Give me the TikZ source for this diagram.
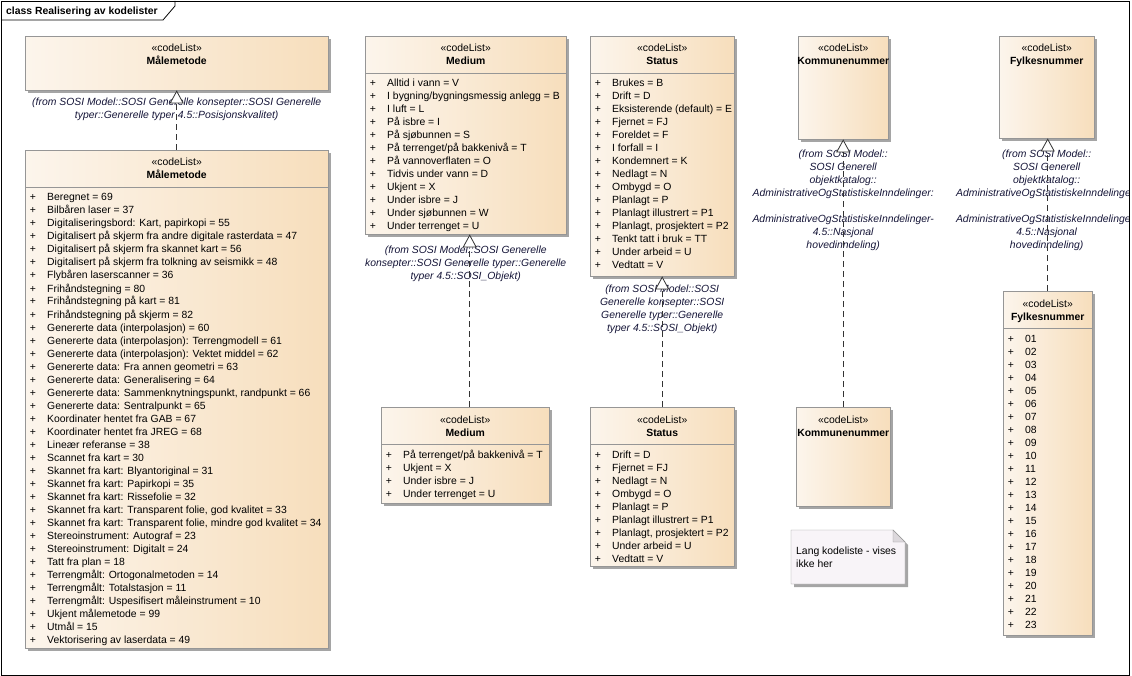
\documentclass[tikz,border=0pt]{standalone}
\usepackage{fontspec}
\setmainfont{Liberation Sans}
\usetikzlibrary{arrows.meta,shadows,positioning}

\definecolor{boxlys}{RGB}{252,245,236}
\definecolor{boxmork}{RGB}{247,222,188}
\definecolor{boxkant}{RGB}{150,150,150}
\definecolor{fratekst}{RGB}{20,20,55}
\definecolor{notatfyll}{RGB}{248,244,248}
\definecolor{notatbrett}{RGB}{220,216,220}
\definecolor{skygge}{RGB}{165,165,165}

\tikzset{
  klasse/.style={draw=boxkant, left color=boxlys, right color=boxmork,
    anchor=north west, inner sep=0pt,
    drop shadow={shadow xshift=3pt, shadow yshift=-3pt, fill=skygge, opacity=1}},
  stereo/.style={font=\fontsize{10.4}{13}\selectfont, inner sep=0pt, anchor=base},
  navn/.style={font=\fontsize{10.4}{13}\selectfont\bfseries, inner sep=0pt, anchor=base},
  verdi/.style={font=\fontsize{10.4}{13}\selectfont, inner sep=0pt, anchor=base west},
  fra/.style={font=\fontsize{10.4}{13}\selectfont\itshape, text=fratekst,
    align=center, inner sep=0pt},
  realiserer/.style={draw=black!80, line width=0.8pt, dash pattern=on 6pt off 4pt,
    -{Triangle[open, length=13pt, width=14pt, fill=white, line width=0.8pt]}}
}

% Kodeliste uten verdier: navn, x, y, bredde, hoyde, tittel
\newcommand{\kodeboks}[6]{
  \node[klasse, minimum width=#4pt, minimum height=#5pt] (#1) at (#2,#3) {};
  \node[stereo] (#1-st) at ([yshift=-16pt]#1.north) {«codeList»};
  \node[navn] (#1-navn) at ([yshift=-29pt]#1.north) {#6};
}
% Kodeliste med verdier
\newcommand{\kodeliste}[7]{
  \kodeboks{#1}{#2}{#3}{#4}{#5}{#6}
  \draw[boxkant] ([yshift=-37pt]#1.north west) -- ([yshift=-37pt]#1.north east);
  \foreach \tekst [count=\n] in {#7} {
    \node[stereo] (#1-p\n) at ([xshift=8pt, yshift={-51pt-13pt*(\n-1)}]#1.north west) {+};
    \node[verdi] (#1-v\n) at ([xshift=22pt, yshift={-51pt-13pt*(\n-1)}]#1.north west) {\tekst};
  }
}

\begin{document}
\begin{tikzpicture}[x=1pt, y=-1pt]
  \useasboundingbox (0,0) rectangle (1132,676);

  % Ramme med tittel
  \draw[line width=0.8pt] (1,1) rectangle (1129,675);
  \draw[line width=0.8pt] (1,20) -- (163,20) -- (175,6) -- (175,1);
  \node[font=\fontsize{10.4}{13}\selectfont\bfseries, inner sep=0pt, anchor=base west]
    (tittel) at (6,15) {class Realisering av kodelister};

  % Målemetode
  \kodeboks{maalTopp}{25}{36}{303}{54}{Målemetode}
  \kodeliste{maalBunn}{25}{150}{303}{498}{Målemetode}{
    Beregnet = 69, Bilbåren laser = 37, {Digitaliseringsbord: Kart, papirkopi = 55},
    Digitalisert på skjerm fra andre digitale rasterdata = 47,
    Digitalisert på skjerm fra skannet kart = 56,
    Digitalisert på skjerm fra tolkning av seismikk = 48,
    Flybåren laserscanner = 36, Frihåndstegning = 80, Frihåndstegning på kart = 81,
    Frihåndstegning på skjerm = 82, Genererte data (interpolasjon) = 60,
    Genererte data (interpolasjon): Terrengmodell = 61,
    Genererte data (interpolasjon): Vektet middel = 62,
    Genererte data: Fra annen geometri = 63, Genererte data: Generalisering = 64,
    {Genererte data: Sammenknytningspunkt, randpunkt = 66},
    Genererte data: Sentralpunkt = 65, Koordinater hentet fra GAB = 67,
    Koordinater hentet fra JREG = 68, Lineær referanse = 38, Scannet fra kart = 30,
    Skannet fra kart: Blyantoriginal = 31, Skannet fra kart: Papirkopi = 35,
    Skannet fra kart: Rissefolie = 32,
    {Skannet fra kart: Transparent folie, god kvalitet = 33},
    {Skannet fra kart: Transparent folie, mindre god kvalitet = 34},
    Stereoinstrument: Autograf = 23, Stereoinstrument: Digitalt = 24,
    Tatt fra plan = 18, Terrengmålt: Ortogonalmetoden = 14,
    Terrengmålt: Totalstasjon = 11, Terrengmålt: Uspesifisert måleinstrument = 10,
    Ukjent målemetode = 99, Utmål = 15, Vektorisering av laserdata = 49}

  % Medium
  \kodeliste{mediumTopp}{365}{36}{201}{198}{Medium}{
    Alltid i vann = V, I bygning/bygningsmessig anlegg = B, I luft = L,
    På isbre = I, På sjøbunnen = S, På terrenget/på bakkenivå = T,
    På vannoverflaten = O, Tidvis under vann = D, Ukjent = X, Under isbre = J,
    Under sjøbunnen = W, Under terrenget = U}
  \kodeliste{mediumBunn}{381}{407}{168}{96}{Medium}{
    På terrenget/på bakkenivå = T, Ukjent = X, Under isbre = J, Under terrenget = U}

  % Status
  \kodeliste{statusTopp}{590}{36}{144}{240}{Status}{
    Brukes = B, Drift = D, Eksisterende (default) = E, Fjernet = FJ, Foreldet = F,
    I forfall = I, Kondemnert = K, Nedlagt = N, Ombygd = O, Planlagt = P,
    Planlagt illustrert = P1, {Planlagt, prosjektert = P2}, Tenkt tatt i bruk = TT,
    Under arbeid = U, Vedtatt = V}
  \kodeliste{statusBunn}{590}{407}{144}{159}{Status}{
    Drift = D, Fjernet = FJ, Nedlagt = N, Ombygd = O, Planlagt = P,
    Planlagt illustrert = P1, {Planlagt, prosjektert = P2}, Under arbeid = U,
    Vedtatt = V}

  % Kommunenummer og Fylkesnummer
  \kodeboks{kommuneTopp}{798}{36}{90}{103}{Kommunenummer}
  \kodeboks{kommuneBunn}{796}{407}{94}{99}{Kommunenummer}
  \kodeboks{fylkeTopp}{999}{36}{95}{102}{Fylkesnummer}
  \kodeliste{fylkeBunn}{1003}{291}{89}{344}{Fylkesnummer}{
    01, 02, 03, 04, 05, 06, 07, 08, 09, 10, 11, 12, 13, 14, 15, 16, 17, 18, 19,
    20, 21, 22, 23}

  % Merknad
  \fill[skygge] (794,533) -- (896,533) -- (908,545) -- (908,587) -- (794,587) -- cycle;
  \draw[boxkant, fill=notatfyll] (791,530) -- (893,530) -- (905,542) -- (905,584)
    -- (791,584) -- cycle;
  \draw[boxkant, fill=notatbrett] (893,530) -- (893,542) -- (905,542) -- cycle;
  \node[verdi, anchor=north west, align=left] (merknad) at (796,547)
    {Lang kodeliste - vises\\ikke her};

  % Opphav
  \node[fra, below=7pt of maalTopp] (maalFra)
    {(from SOSI Model::SOSI Generelle konsepter::SOSI Generelle\\
     typer::Generelle typer 4.5::Posisjonskvalitet)};
  \node[fra, below=11pt of mediumTopp] (mediumFra)
    {(from SOSI Model::SOSI Generelle\\konsepter::SOSI Generelle typer::Generelle\\
     typer 4.5::SOSI\_Objekt)};
  \node[fra, below=8pt of statusTopp] (statusFra)
    {(from SOSI Model::SOSI\\Generelle konsepter::SOSI\\Generelle typer::Generelle\\
     typer 4.5::SOSI\_Objekt)};
  \node[fra, below=10pt of kommuneTopp] (kommuneFra)
    {(from SOSI Model::\\SOSI Generell\\objektkatalog::\\
     AdministrativeOgStatistiskeInndelinger:\\[13pt]
     AdministrativeOgStatistiskeInndelinger-\\4.5::Nasjonal\\hovedinndeling)};
  \begin{scope}
    \clip (0,0) rectangle (1128,676);
    \node[fra, below=11pt of fylkeTopp] (fylkeFra)
      {(from SOSI Model::\\SOSI Generell\\objektkatalog::\\
       AdministrativeOgStatistiskeInndelinger:\\[13pt]
       AdministrativeOgStatistiskeInndelinger-\\4.5::Nasjonal\\hovedinndeling)};
  \end{scope}

  % Realiseringer
  \draw[realiserer] (maalBunn.north) -- (maalTopp.south);
  \draw[realiserer] ([xshift=4.5pt]mediumBunn.north) -- ([xshift=4.5pt]mediumBunn.north |- mediumTopp.south);
  \draw[realiserer] (statusBunn.north) -- (statusTopp.south);
  \draw[realiserer] (kommuneBunn.north) -- (kommuneTopp.south);
  \draw[realiserer] (fylkeBunn.north) -- (fylkeBunn.north |- fylkeTopp.south);
\end{tikzpicture}
\end{document}
